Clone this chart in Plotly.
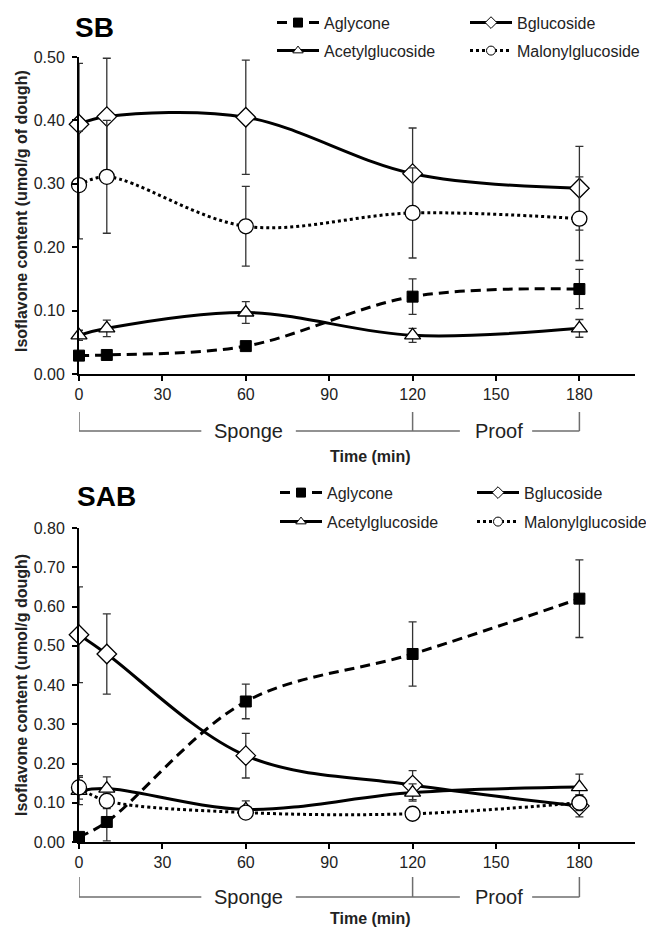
import plotly.graph_objects as go

OFF = 8  # page body margin of the browser
W, H = 654 - OFF, 929 - OFF

time_min = [0, 10, 60, 120, 180]
x_ticks = [0, 30, 60, 90, 120, 150, 180]
series_names = ["Aglycone", "Bglucoside", "Acetylglucoside", "Malonylglucoside"]

# SB panel
sb_aglycone = [0.029, 0.030, 0.044, 0.122, 0.134]
sb_aglycone_err = [0.004, 0.004, 0.005, 0.028, 0.031]
sb_bglucoside = [0.394, 0.406, 0.405, 0.316, 0.293]
sb_bglucoside_err = [0.096, 0.092, 0.090, 0.072, 0.066]
sb_acetyl = [0.061, 0.072, 0.097, 0.061, 0.072]
sb_acetyl_err = [0.008, 0.013, 0.017, 0.011, 0.014]
sb_malonyl = [0.298, 0.311, 0.233, 0.254, 0.245]
sb_malonyl_err = [0.085, 0.089, 0.063, 0.071, 0.066]
sb_y_ticks = [0.0, 0.1, 0.2, 0.3, 0.4, 0.5]

# SAB panel
sab_aglycone = [0.013, 0.051, 0.358, 0.479, 0.620]
sab_aglycone_err = [0.005, 0.048, 0.044, 0.082, 0.099]
sab_bglucoside = [0.528, 0.479, 0.220, 0.145, 0.092]
sab_bglucoside_err = [0.122, 0.102, 0.057, 0.037, 0.028]
sab_acetyl = [0.130, 0.136, 0.083, 0.126, 0.140]
sab_acetyl_err = [0.035, 0.030, 0.022, 0.022, 0.033]
sab_malonyl = [0.139, 0.105, 0.075, 0.072, 0.100]
sab_malonyl_err = [0.030, 0.020, 0.010, 0.010, 0.020]
sab_y_ticks = [0.0, 0.1, 0.2, 0.3, 0.4, 0.5, 0.6, 0.7, 0.8]

FONT = "Arial, Liberation Sans, sans-serif"


def px(x):
    return (x - OFF) / W


def py(y):
    return 1 - (y - OFF) / H


styles = {
    "Aglycone": dict(dash="10px,6px", symbol="square", color="black", size=11, lw=1, lsize=9),
    "Bglucoside": dict(dash="solid", symbol="diamond", color="white", size=15, lw=1.3, lsize=9),
    "Acetylglucoside": dict(dash="solid", symbol="triangle-up", color="white", size=14, lw=1.3, lsize=9),
    "Malonylglucoside": dict(dash="dot", symbol="circle", color="white", size=15, lw=1.3, lsize=9),
}

fig = go.Figure()


def add_panel(values, errors, xa, ya, legends, widths):
    for i, name in enumerate(series_names):
        st = styles[name]
        fig.add_trace(go.Scatter(
            x=time_min, y=values[i], name=name, mode="lines+markers",
            xaxis=xa, yaxis=ya, showlegend=False,
            line=dict(color="black", width=3, dash=st["dash"], shape="spline", smoothing=1),
            marker=dict(symbol=st["symbol"], size=st["size"], color=st["color"],
                        line=dict(color="black", width=st["lw"])),
            error_y=dict(type="data", array=errors[i], visible=True, color="#333333",
                         thickness=1.3, width=4),
            cliponaxis=False,
        ))
    # legend keys (smaller markers, as in the reference key)
    for i, name in enumerate(series_names):
        st = styles[name]
        fig.add_trace(go.Scatter(
            x=[None], y=[None], name=name, mode="lines+markers",
            xaxis=xa, yaxis=ya, legend=legends[i // 2], legendwidth=widths[i % 2],
            line=dict(color="black", width=3, dash=st["dash"]),
            marker=dict(symbol=st["symbol"], size=st["lsize"], color=st["color"],
                        line=dict(color="black", width=1)),
        ))


add_panel([sb_aglycone, sb_bglucoside, sb_acetyl, sb_malonyl],
          [sb_aglycone_err, sb_bglucoside_err, sb_acetyl_err, sb_malonyl_err],
          "x", "y", ["legend", "legend2"], [136, 125])
add_panel([sab_aglycone, sab_bglucoside, sab_acetyl, sab_malonyl],
          [sab_aglycone_err, sab_bglucoside_err, sab_acetyl_err, sab_malonyl_err],
          "x2", "y2", ["legend3", "legend4"], [140, 125])

xdom = [px(79), px(635)]
axis_common = dict(showline=True, linecolor="black", linewidth=2, ticks="outside",
                   ticklen=5, tickwidth=2, tickcolor="black", showgrid=False,
                   zeroline=False, tickfont=dict(family=FONT, size=16, color="#222"))

fig.update_layout(
    xaxis=dict(domain=xdom, range=[0, 200], tickvals=x_ticks, anchor="y", **axis_common),
    yaxis=dict(domain=[py(374), py(57)], range=[0, 0.5], tickvals=sb_y_ticks,
               tickformat=".2f", anchor="x", ticklabelstandoff=4, **axis_common),
    xaxis2=dict(domain=xdom, range=[0, 200], tickvals=x_ticks, anchor="y2", **axis_common),
    yaxis2=dict(domain=[py(842), py(528)], range=[0, 0.8], tickvals=sab_y_ticks,
                tickformat=".2f", anchor="x2", ticklabelstandoff=4, **axis_common),
)

leg_common = dict(orientation="h", xanchor="left", yanchor="middle", entrywidth=136,
                  font=dict(family=FONT, size=16, color="#222"), bgcolor="rgba(0,0,0,0)",
                  itemsizing="trace", itemwidth=42, tracegroupgap=0)
fig.update_layout(
    legend=dict(x=px(272), y=py(22.7), **leg_common),
    legend2=dict(x=px(272), y=py(50.7), **leg_common),
    legend3=dict(x=px(275), y=py(492.7), **leg_common),
    legend4=dict(x=px(275), y=py(521.7), **leg_common),
)

annotations = []
shapes = []


def ann(text, x, y, size, xref="paper", angle=0, color="#222"):
    annotations.append(dict(text=text, xref=xref, yref="paper", x=x, y=y,
                            xanchor="center", yanchor="middle", textangle=angle,
                            showarrow=False, font=dict(family=FONT, size=size, color=color)))


def bracket(xref, top, bottom, label_y, time_y):
    gray = "#6e6e6e"
    for xv in [0, 120, 180]:
        shapes.append(dict(type="line", xref=xref, yref="paper", x0=xv, x1=xv,
                           y0=py(top), y1=py(bottom), line=dict(color=gray, width=1.5)))
    for a, b in [(0, 44), (78, 137), (163, 180)]:
        shapes.append(dict(type="line", xref=xref, yref="paper", x0=a, x1=b,
                           y0=py(bottom), y1=py(bottom), line=dict(color=gray, width=1.5)))
    ann("Sponge", 61, py(label_y), 20, xref=xref)
    ann("Proof", 151, py(label_y), 20, xref=xref)
    ann("<b>Time (min)</b>", px(370), py(time_y), 16)


bracket("x", 412, 431, 431, 456)
bracket("x2", 877, 897, 897, 918)

ann("<b>SB</b>", px(94.5), py(27.7), 28, color="black")
ann("<b>SAB</b>", px(106.7), py(496.7), 28, color="black")
ann("<b>Isoflavone content (umol/g of dough)</b>", px(21), py(211), 16, angle=-90)
ann("<b>Isoflavone content (umol/g dough)</b>", px(21), py(685), 16, angle=-90)

fig.update_layout(
    width=W, height=H, margin=dict(l=0, r=0, t=0, b=0, autoexpand=False),
    paper_bgcolor="white", plot_bgcolor="white",
    annotations=annotations, shapes=shapes, font=dict(family=FONT),
)

fig.write_html("out.html")
